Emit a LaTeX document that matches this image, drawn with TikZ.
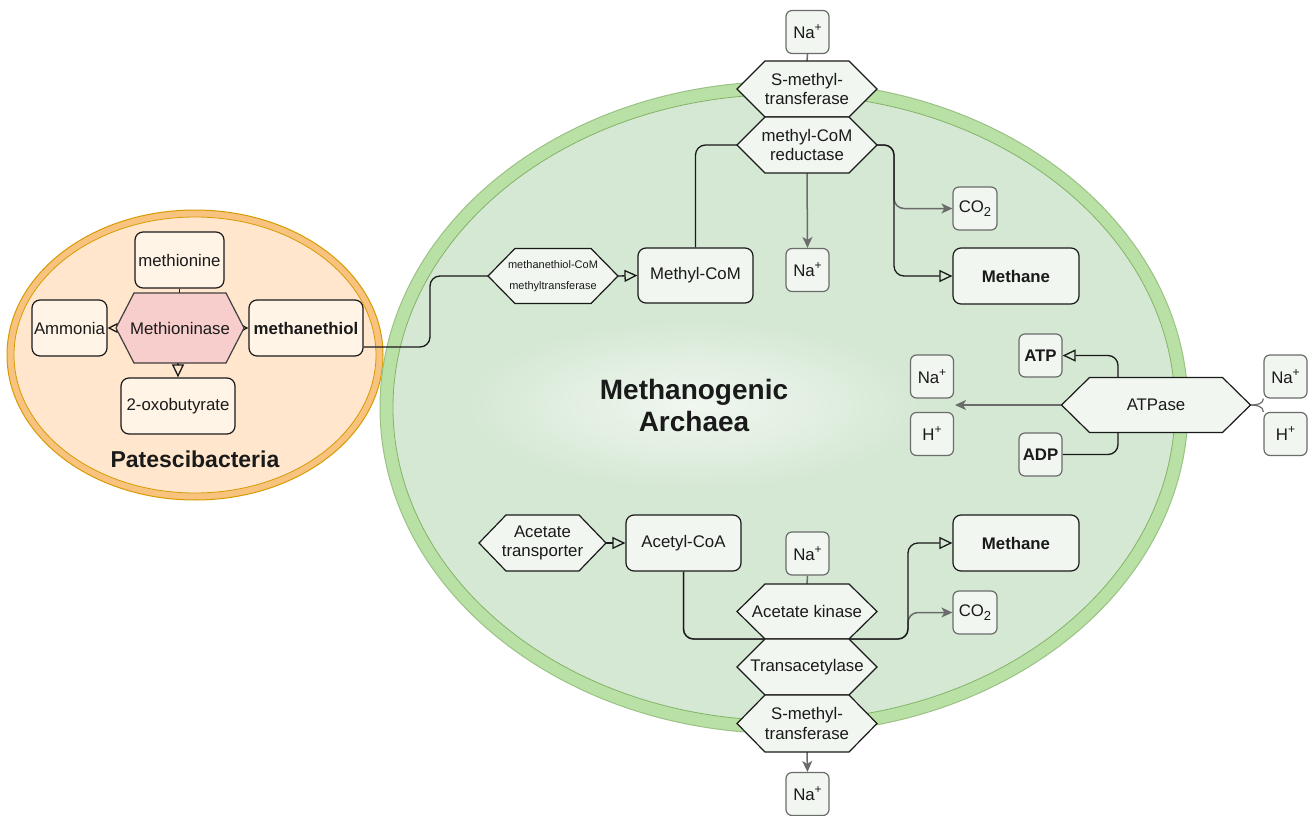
\documentclass[tikz,border=0pt]{standalone}
\usepackage{fontspec}
\setmainfont{Liberation Sans}
\usetikzlibrary{arrows.meta}
\definecolor{cellfill}{HTML}{F1F6F0}
\definecolor{orfill}{HTML}{FFF4E6}
\definecolor{pinkfill}{HTML}{F8CECC}
\definecolor{iongray}{HTML}{6B6B6B}
\definecolor{greenband}{HTML}{B9E0A5}
\definecolor{greenline}{HTML}{82B366}
\definecolor{greenin}{HTML}{D5E8D4}
\definecolor{orband}{HTML}{F8C27F}
\definecolor{orline}{HTML}{D79B00}
\definecolor{orin}{HTML}{FFE6CC}
\definecolor{ink}{HTML}{1A1A1A}
\pgfdeclarelayer{back}
\pgfdeclarelayer{edges}
\pgfsetlayers{back,edges,main}
\newcommand{\normfont}{\fontsize{16.8}{19.5}\selectfont}
\newcommand{\smallhexfont}{\fontsize{11}{21}\selectfont}
\newcommand{\ionp}{\raisebox{0.42em}{\fontsize{12}{12}\selectfont +}}
\newcommand{\ionsub}{\raisebox{-0.28em}{\fontsize{13}{13}\selectfont 2}}
\tikzset{
  base/.style={font=\normfont, align=center, inner sep=0pt, text=ink},
  box/.style={base, draw=ink, fill=cellfill, rounded corners=8pt, line width=1.2pt},
  obox/.style={box, fill=orfill},
  ion/.style={base, draw=iongray, fill=cellfill, rounded corners=6pt, line width=1.2pt, minimum width=43pt, minimum height=43pt},
  hexshape/.style={draw=ink, fill=cellfill, line width=1.2pt},
  mhex/.style={draw=black!75, fill=pinkfill, line width=1.2pt},
  conn/.style={line width=1.3pt, draw=ink, rounded corners=10pt},
  gconn/.style={line width=1.5pt, draw=iongray, rounded corners=10pt},
  opentip/.style={-{Triangle[open,length=13pt,width=12pt]}},
  smalltip/.style={-{Triangle[open,length=10pt,width=10pt]}},
  gtip/.style={-{Stealth[length=11pt,width=10pt,inset=3pt]}},
}
% [style]{name}{x}{y}{w}{h}{inset}{text}; text font from \hexfont
\newcommand{\hexfont}{\normfont}
\newcommand{\hexn}[8][hexshape]{%
  \filldraw[#1] ({#3-#5/2},#4) -- ({#3-#5/2+#7},{#4-#6/2}) -- ({#3+#5/2-#7},{#4-#6/2}) -- ({#3+#5/2},#4) -- ({#3+#5/2-#7},{#4+#6/2}) -- ({#3-#5/2+#7},{#4+#6/2}) -- cycle;
  \node[base, font=\hexfont, minimum width=#5pt, minimum height=#6pt] (#2) at (#3,#4) {#8};}
\begin{document}
\begin{tikzpicture}[x=1pt,y=-1pt]
\useasboundingbox (0,0) rectangle (1312,816);

% ---------- cells ----------
\begin{pgfonlayer}{back}
  \filldraw[fill=orband, draw=orline, line width=1pt] (195,355) ellipse [x radius=188, y radius=145];
  \filldraw[fill=orin, draw=orline, line width=0.8pt] (195,355) ellipse [x radius=181, y radius=138];
  \filldraw[fill=greenband, draw=greenline!80, line width=1pt] (784,407.5) ellipse [x radius=404, y radius=326];
  \filldraw[fill=greenin, draw=greenline, line width=0.8pt] (784,407.5) ellipse [x radius=391, y radius=313];
  \shade[inner color=white!65!greenin, outer color=greenin] (694,405) ellipse [x radius=230, y radius=85];
\end{pgfonlayer}

% ---------- Patescibacteria ----------
\node[obox, minimum width=89pt, minimum height=56pt] (methionine) at (179.5,260) {methionine};
\hexn[mhex]{methioninase}{180}{328}{128}{70}{18}{Methioninase}
\node[obox, minimum width=75pt, minimum height=56pt] (ammonia) at (69.5,328) {Ammonia};
\node[obox, minimum width=114pt, minimum height=56pt, font=\normfont\bfseries] (mthiol) at (306,328) {methanethiol};
\node[obox, minimum width=114pt, minimum height=56pt] (oxo) at (178,406) {2-oxobutyrate};
\node[base, font=\fontsize{23}{26}\selectfont\bfseries] (patlabel) at (195,459) {Patescibacteria};

% ---------- Archaea ----------
\node[base, font=\fontsize{28}{32}\selectfont\bfseries] (archlabel) at (694,405) {Methanogenic\\Archaea};

\node[ion] (na1) at (807.5,32) {Na\ionp};
\hexn{smt1}{807}{89}{140}{56}{28}{S-methyl-\\transferase}
\hexn{reductase}{807}{145}{140}{56}{28}{methyl-CoM\\reductase}
\node[ion] (na2) at (807.5,270) {Na\ionp};
\node[ion, minimum width=44pt] (co2a) at (975,208.5) {CO\ionsub};
\node[box, minimum width=126pt, minimum height=56pt, font=\normfont\bfseries] (methane1) at (1016,276) {Methane};
\renewcommand{\hexfont}{\smallhexfont}
\hexn{mtcm}{553}{276}{130}{55}{27}{methanethiol-CoM\\methyltransferase}
\renewcommand{\hexfont}{\normfont}
\node[box, minimum width=115pt, minimum height=55pt] (methylcom) at (695.5,275.5) {Methyl-CoM};

\node[ion, font=\normfont\bfseries] (atp) at (1040.5,355.5) {ATP};
\node[ion, font=\normfont\bfseries] (adp) at (1040.5,454.5) {ADP};
\hexn{atpase}{1156}{405}{189}{55}{28}{ATPase}
\node[ion] (naL) at (932,376.5) {Na\ionp};
\node[ion] (hL) at (932,434) {H\ionp};
\node[ion] (naR) at (1285.5,376.5) {Na\ionp};
\node[ion] (hR) at (1285.5,434) {H\ionp};
\coordinate (ionout) at (955,405);

\hexn{acetrans}{542.5}{543}{127}{56}{27}{Acetate\\transporter}
\node[box, minimum width=115pt, minimum height=56pt] (acetylcoa) at (683.5,543) {Acetyl-CoA};
\node[ion] (na3) at (807.5,553.5) {Na\ionp};
\hexn{kinase}{807}{611.5}{140}{55}{28}{Acetate kinase}
\hexn{trans}{807}{667}{140}{56}{28}{Transacetylase}
\hexn{smt2}{807}{723.5}{140}{57}{28}{S-methyl-\\transferase}
\node[ion] (na4) at (807.5,794) {Na\ionp};
\node[box, minimum width=126pt, minimum height=56pt, font=\normfont\bfseries] (methane2) at (1016,543) {Methane};
\node[ion, minimum width=44pt] (co2b) at (975,612.5) {CO\ionsub};

% ---------- connectors ----------
\begin{pgfonlayer}{edges}
  \draw[conn] (methionine.south) -- (methionine.south |- methioninase.north);
  \draw[conn, smalltip] (methioninase.west) -- (ammonia.east);
  \draw[conn, smalltip] (methioninase.east) -- (mthiol.west);
  \draw[conn, opentip] (methioninase.south -| oxo.north) -- (oxo.north);

  \draw[conn] ([yshift=-19pt]mthiol.east) -- (430,347) |- (mtcm.west);
  \draw[conn, opentip] (mtcm.east) -- (methylcom.west);
  \draw[conn] (methylcom.north) |- (reductase.west);
  \draw[gconn, gtip] (reductase.south) -- (na2.north);
  \draw[gconn] (na1.south) -- (smt1.north);
  \draw[gconn, gtip] (reductase.east) -- (894,145) |- (co2a.west);
  \draw[conn, opentip] (reductase.east) -- (894,145) |- (methane1.west);

  \draw[conn, opentip] ([xshift=-38pt]atpase.north) |- (atp.east);
  \draw[conn] (adp.east) -| ([xshift=-38pt]atpase.south);
  \draw[gconn, gtip] (atpase.west) -- (ionout);
  \draw[gconn, line width=1.2pt] (atpase.east) to[out=0,in=-90] (naR.south west);
  \draw[gconn, line width=1.2pt] (atpase.east) to[out=0,in=90] (hR.north west);

  \draw[conn, opentip] (acetrans.east) -- (acetylcoa.west);
  \draw[gconn] (na3.south) -- (kinase.north);
  \draw[gconn, gtip] (smt2.south) -- (na4.north);
  \draw[gconn, gtip] (acetylcoa.south) |- (908,639) |- (co2b.west);
  \draw[conn, opentip] (acetylcoa.south) |- (908,639) |- (methane2.west);
\end{pgfonlayer}
\end{tikzpicture}
\end{document}
